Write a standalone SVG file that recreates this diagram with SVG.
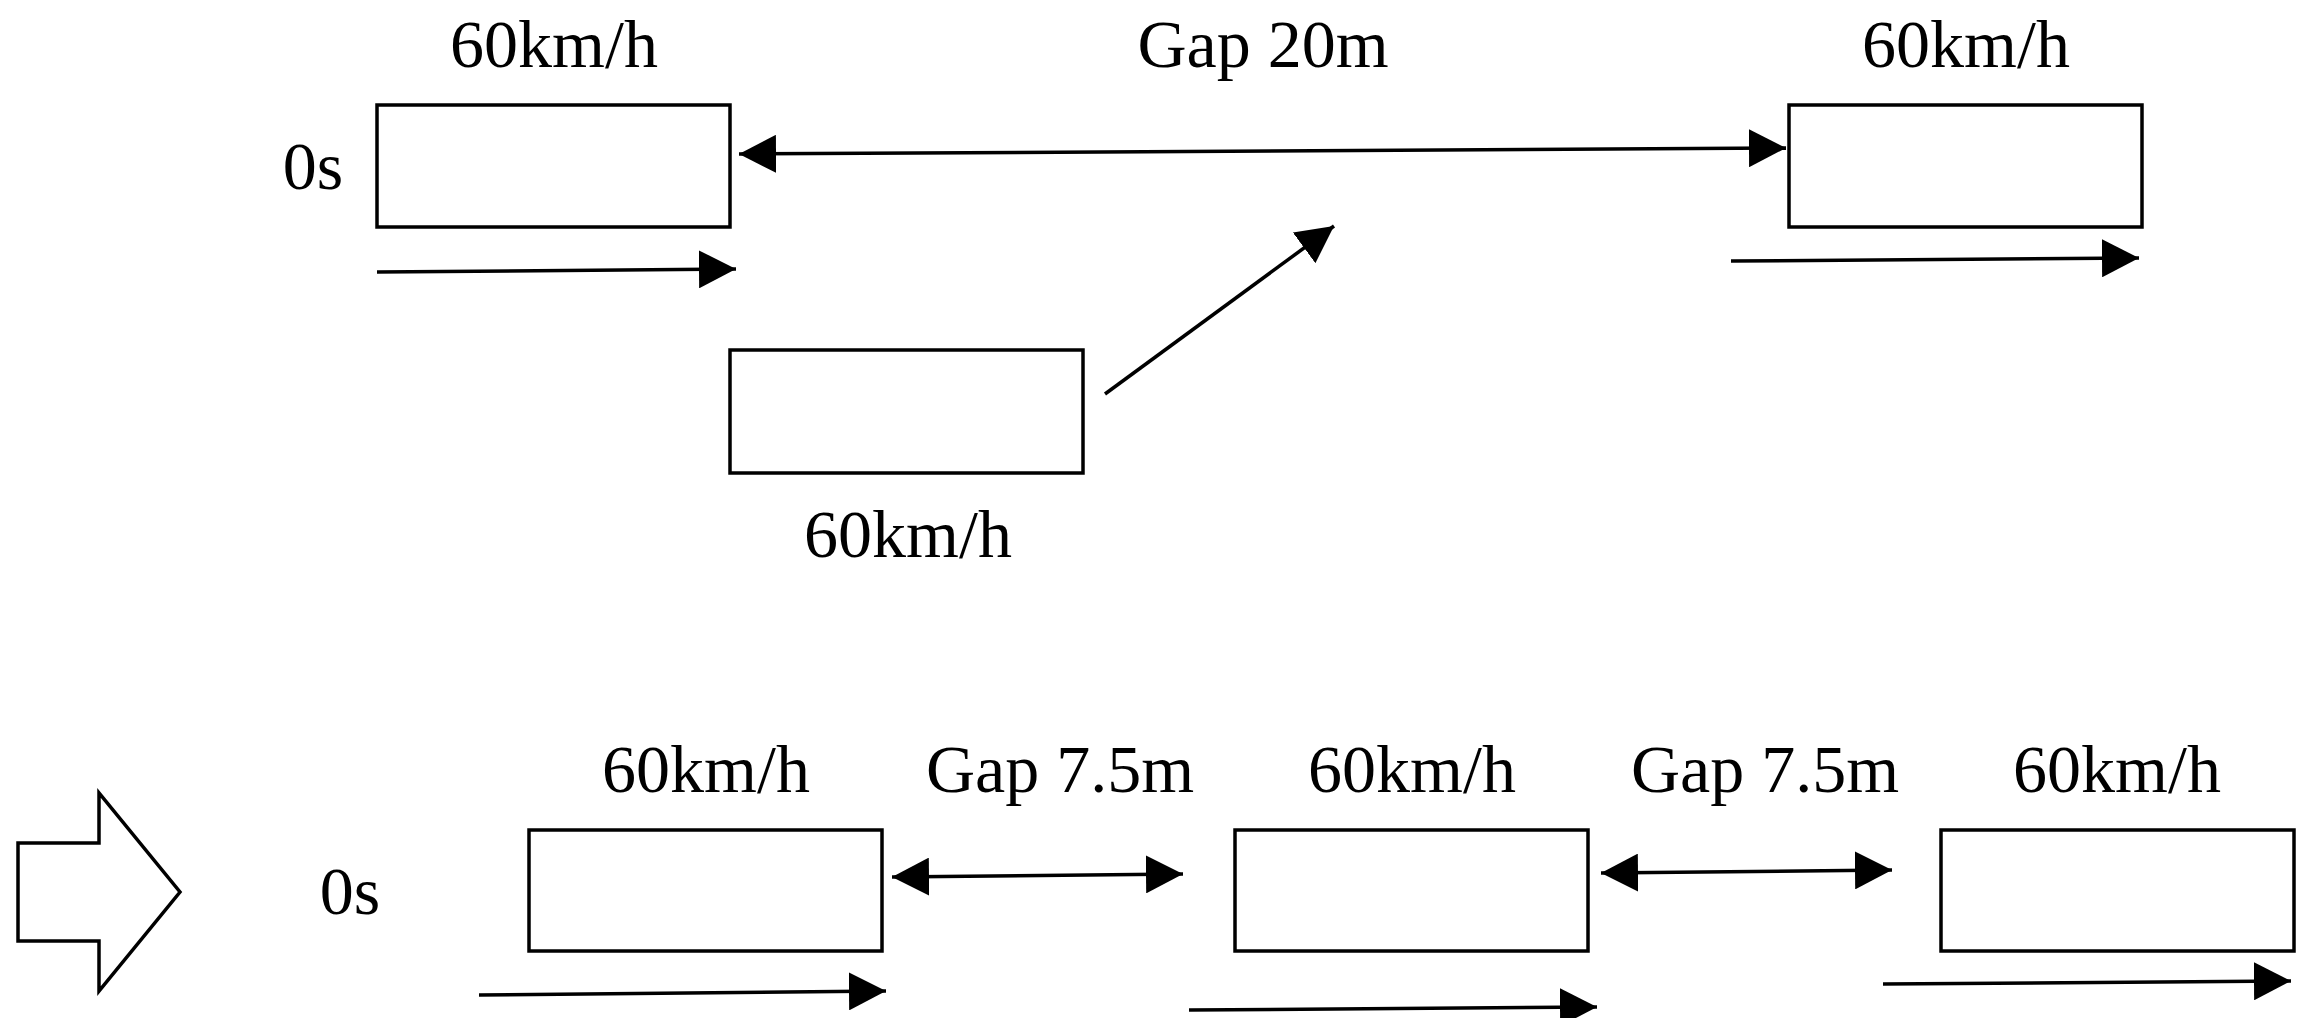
<svg xmlns="http://www.w3.org/2000/svg" width="2316" height="1018" viewBox="0 0 2316 1018">
<style>
.b{fill:#fff;stroke:#000;stroke-width:3.5}
.t{font-family:"Liberation Serif",serif;font-size:68px;fill:#000;text-anchor:middle}
.c{stroke:#000;stroke-width:3.5;fill:none}
</style>
<defs>
<marker id="a" markerUnits="userSpaceOnUse" markerWidth="38" markerHeight="38" refX="37" refY="19" orient="auto-start-reverse" viewBox="0 0 38 38"><path d="M0,0 L37,19 L0,38 Z" fill="#000"/></marker>
</defs>
<rect width="2316" height="1018" fill="#fff"/>
<g id="n1"><rect class="b" x="377" y="105" width="353" height="122"/></g>
<g id="n2"><rect class="b" x="1789" y="105" width="353" height="122"/></g>
<g id="n3"><rect class="b" x="730" y="350" width="353" height="123"/></g>
<g id="n4"><rect class="b" x="529" y="830" width="353" height="121"/></g>
<g id="n5"><rect class="b" x="1235" y="830" width="353" height="121"/></g>
<g id="n6"><rect class="b" x="1941" y="830" width="353" height="121"/></g>
<g id="big"><polygon class="b" points="18,843 99,843 99,793 180,892 99,991 99,941 18,941"/></g>
<g id="labels">
<text class="t" x="554" y="67">60km/h</text>
<text class="t" x="1263" y="67">Gap 20m</text>
<text class="t" x="1966" y="67">60km/h</text>
<text class="t" x="313" y="189">0s</text>
<text class="t" x="908" y="557">60km/h</text>
<text class="t" x="706" y="792">60km/h</text>
<text class="t" x="1060" y="792">Gap 7.5m</text>
<text class="t" x="1412" y="792">60km/h</text>
<text class="t" x="1765" y="792">Gap 7.5m</text>
<text class="t" x="2117" y="792">60km/h</text>
<text class="t" x="350" y="914">0s</text>
</g>
<g id="connectors">
<line class="c" x1="739" y1="154" x2="1786" y2="148" marker-start="url(#a)" marker-end="url(#a)"/>
<line class="c" x1="377" y1="272" x2="736" y2="269" marker-end="url(#a)"/>
<line class="c" x1="1731" y1="261" x2="2139" y2="258" marker-end="url(#a)"/>
<line class="c" x1="1105" y1="394" x2="1334" y2="226" marker-end="url(#a)"/>
<line class="c" x1="892" y1="877" x2="1183" y2="874" marker-start="url(#a)" marker-end="url(#a)"/>
<line class="c" x1="1601" y1="873" x2="1892" y2="870" marker-start="url(#a)" marker-end="url(#a)"/>
<line class="c" x1="479" y1="995" x2="886" y2="991" marker-end="url(#a)"/>
<line class="c" x1="1189" y1="1010" x2="1597" y2="1007" marker-end="url(#a)"/>
<line class="c" x1="1883" y1="984" x2="2291" y2="981" marker-end="url(#a)"/>
</g>
</svg>
